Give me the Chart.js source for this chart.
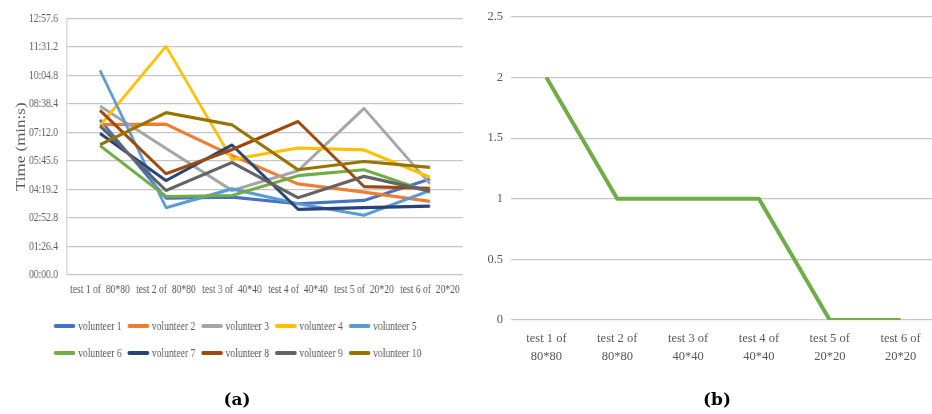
<!DOCTYPE html>
<html>
<head>
<meta charset="utf-8">
<script src="https://cdn.jsdelivr.net/npm/chart.js@4/dist/chart.umd.min.js"></script>
<style>
  html, body { margin: 0; padding: 0; background: #fff; }
  body { width: 932px; height: 414px; position: relative; overflow: hidden; }
  #timeChart { position: absolute; left: 0; top: 0; transform: scaleX(0.8); transform-origin: 0 0; }
  #failChart { position: absolute; left: 480px; top: 0; }
  .panel { position: absolute; top: 389px; font: bold 17px "DejaVu Serif", serif; color: #000; transform: translateX(-50%); }
</style>
</head>
<body>
<canvas id="timeChart" width="588" height="414"></canvas>
<canvas id="failChart" width="456" height="414"></canvas>
<div class="panel" style="left:237px">(a)</div>
<div class="panel" style="left:717px">(b)</div>
<script>
// Test names and grid sizes
const testNames = ['test 1 of', 'test 2 of', 'test 3 of', 'test 4 of', 'test 5 of', 'test 6 of'];
const gridSizes = ['80*80', '80*80', '40*40', '40*40', '20*20', '20*20'];

// Completion time per volunteer, in seconds
const volunteer1  = [470, 233, 236, 216, 226, 291];
const volunteer2  = [456, 457, 362, 276, 251, 223];
const volunteer3  = [512, 384, 256, 316, 505, 276];
const volunteer4  = [453, 693, 350, 385, 379, 296];
const volunteer5  = [620, 204, 261, 216, 181, 256];
const volunteer6  = [392, 238, 241, 301, 319, 251];
const volunteer7  = [429, 286, 394, 199, 204, 209];
const volunteer8  = [499, 307, 380, 465, 268, 263];
const volunteer9  = [452, 256, 341, 234, 299, 254];
const volunteer10 = [395, 492, 455, 319, 344, 326];

const volunteerNames = ['volunteer 1', 'volunteer 2', 'volunteer 3', 'volunteer 4', 'volunteer 5',
                        'volunteer 6', 'volunteer 7', 'volunteer 8', 'volunteer 9', 'volunteer 10'];
const volunteerColors = ['#4472C4', '#ED7D31', '#A5A5A5', '#FFC000', '#5B9BD5',
                         '#70AD47', '#264478', '#9E480E', '#636363', '#997300'];
const volunteerTimes = [volunteer1, volunteer2, volunteer3, volunteer4, volunteer5,
                        volunteer6, volunteer7, volunteer8, volunteer9, volunteer10];

// Time axis: 0 .. 12:57.6 in steps of 01:26.4
const timeMax = 777.6;
const timeStep = 86.4;

// Second panel: count per test
const failCounts = [2, 1, 1, 1, 0, 0];

const SX = 0.8; // horizontal squeeze applied to the first canvas
const GREY_TEXT = '#595959';
const GRID = '#C6C6C6';
const SERIF = '"Liberation Serif", "Times New Roman", serif';

function fmtTime(v) {
  const tenths = Math.round(v * 10);
  const m = Math.floor(tenths / 600);
  const rest = (tenths - m * 600) / 10;
  return String(m).padStart(2, '0') + ':' + rest.toFixed(1).padStart(4, '0');
}

// Two-row legend drawn under the first chart
const lineLegend = {
  id: 'lineLegend',
  afterDraw(chart, args, o) {
    const ctx = chart.ctx;
    const sets = chart.data.datasets;
    ctx.save();
    ctx.font = o.font;
    ctx.textBaseline = 'middle';
    const lastW = ctx.measureText(sets[o.perRow - 1].label).width;
    const rowW = (o.perRow - 1) * o.step + o.sample + o.gap + lastW;
    const x0 = (chart.width - rowW) / 2;
    sets.forEach((ds, i) => {
      const r = Math.floor(i / o.perRow), c = i % o.perRow;
      const x = x0 + c * o.step;
      const y = o.top + r * o.rowGap;
      ctx.strokeStyle = ds.borderColor;
      ctx.lineWidth = o.thickness;
      ctx.lineCap = 'round';
      ctx.beginPath();
      ctx.moveTo(x + o.thickness / 2, y);
      ctx.lineTo(x + o.sample - o.thickness / 2, y);
      ctx.stroke();
      ctx.fillStyle = o.color;
      ctx.fillText(ds.label, x + o.sample + o.gap, y + 0.5);
    });
    ctx.restore();
  }
};

new Chart(document.getElementById('timeChart'), {
  type: 'line',
  data: {
    labels: testNames.map((t, i) => t + '  ' + gridSizes[i]),
    datasets: volunteerTimes.map((vals, i) => ({
      label: volunteerNames[i],
      data: vals,
      borderColor: volunteerColors[i],
      backgroundColor: volunteerColors[i],
      borderWidth: 3.2,
      pointRadius: 0,
      tension: 0,
      fill: false,
      borderJoinStyle: 'round',
      order: volunteerTimes.length - i
    }))
  },
  plugins: [lineLegend],
  options: {
    responsive: false,
    animation: false,
    devicePixelRatio: 1,
    layout: { padding: { top: 17, right: 588 - 463 / SX, bottom: 0, left: 0 } },
    scales: {
      x: {
        offset: true,
        grid: { display: false, drawTicks: false },
        border: { display: false },
        ticks: { color: GREY_TEXT, font: { family: SERIF, size: 12 }, padding: 8, maxRotation: 0, autoSkip: false },
        afterFit(s) { s.height = 414 - 275; }
      },
      y: {
        min: 0,
        max: timeMax,
        grid: { color: GRID, lineWidth: 1.2, drawTicks: false },
        border: { display: true, color: GRID, width: 1.2 },
        ticks: {
          stepSize: timeStep,
          color: GREY_TEXT,
          font: { family: SERIF, size: 12 },
          padding: 11.25,
          callback: v => fmtTime(v)
        },
        title: {
          display: true,
          text: 'Time (min:s)',
          color: GREY_TEXT,
          font: { family: SERIF, size: 17 },
          padding: { top: 16.6, bottom: 0 }
        },
        afterFit(s) { s.width = 67 / SX; }
      }
    },
    plugins: {
      legend: { display: false },
      tooltip: { enabled: false },
      lineLegend: {
        perRow: 5, step: 92.2, sample: 27, gap: 3.4, thickness: 4,
        top: 326, rowGap: 27, font: '12px ' + SERIF, color: GREY_TEXT
      }
    }
  }
});

new Chart(document.getElementById('failChart'), {
  type: 'line',
  data: {
    labels: testNames.map((t, i) => [t, gridSizes[i]]),
    datasets: [{
      data: failCounts,
      borderColor: '#70AD47',
      backgroundColor: '#70AD47',
      borderWidth: 4,
      pointRadius: 0,
      tension: 0,
      fill: false,
      borderJoinStyle: 'round'
    }]
  },
  options: {
    responsive: false,
    animation: false,
    devicePixelRatio: 1,
    layout: { padding: { top: 17, right: 0, bottom: 0, left: 0 } },
    scales: {
      x: {
        offset: true,
        grid: { display: false, drawTicks: false },
        border: { display: false },
        ticks: { color: GREY_TEXT, font: { family: SERIF, size: 12.5, lineHeight: 1.45 }, padding: 10, maxRotation: 0, autoSkip: false },
        afterFit(s) { s.height = 414 - 320; }
      },
      y: {
        min: 0,
        max: 2.5,
        grid: { color: GRID, lineWidth: 1.2, drawTicks: false },
        border: { display: false },
        ticks: {
          stepSize: 0.5,
          color: GREY_TEXT,
          font: { family: SERIF, size: 12.5 },
          padding: 8,
          callback: v => String(Math.round(v * 10) / 10)
        },
        afterFit(s) { s.width = 31; }
      }
    },
    plugins: { legend: { display: false }, tooltip: { enabled: false } }
  }
});
</script>
</body>
</html>
